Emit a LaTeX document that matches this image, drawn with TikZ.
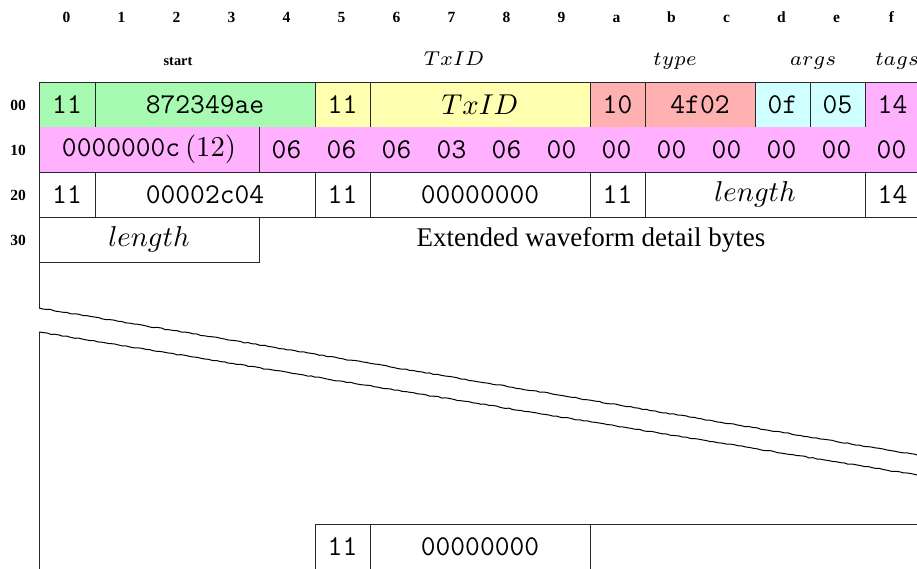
\documentclass[tikz,border=0pt]{standalone}
\usepackage{fontspec}
\newfontfamily\labfont{Liberation Serif}
\usetikzlibrary{decorations.pathmorphing}
\definecolor{cgreen}{RGB}{166,250,178}
\definecolor{cyellow}{RGB}{255,255,176}
\definecolor{cred}{RGB}{255,176,176}
\definecolor{ccyan}{RGB}{208,255,255}
\definecolor{cmag}{RGB}{255,176,255}
\definecolor{cline}{RGB}{40,40,40}
\newcommand{\bigsc}[1]{\scalebox{2.87}{#1}}
\begin{document}
\begin{tikzpicture}[x=1pt,y=-1pt,
  cell/.style={draw=cline,line width=0.8pt,inner sep=0pt,outer sep=0pt,minimum height=45pt,anchor=north west,
     font=\fontsize{28.7}{30}\selectfont\ttfamily},
  txt/.style={inner sep=0pt,outer sep=0pt,font=\fontsize{28.7}{30}\selectfont\ttfamily},
  hexlab/.style={anchor=base,inner sep=0pt,font=\fontsize{15.5}{17}\selectfont\labfont\bfseries},
  rowlab/.style={inner sep=0pt,font=\fontsize{15.5}{17}\selectfont\labfont\bfseries},
  fieldlab/.style={anchor=base,inner sep=0pt,font=\fontsize{14.4}{16}\selectfont\labfont\bfseries},
  mlab/.style={anchor=base,inner sep=0pt},
  edge/.style={draw=cline,line width=0.8pt},
  torn/.style={draw=black,line width=1pt,decorate,decoration={random steps,segment length=4pt,amplitude=0.5pt}}]
\useasboundingbox (0,0) rectangle (917,569);
\clip (0,0) rectangle (917,569);
% column labels
\foreach \c [count=\i from 0] in {0,1,2,3,4,5,6,7,8,9,a,b,c,d,e,f}
  \node[hexlab] (h\i) at ({39+55*\i+27.5},23) {\c};
% field labels
\node[fieldlab] (fstart) at (178,66) {start};
\node[mlab] (ftxid) at (454,66) {\bigsc{\scriptsize$TxID$}};
\node[mlab] (ftype) at (675,66) {\bigsc{\scriptsize$type$}};
\node[mlab] (fargs) at (813,66) {\bigsc{\scriptsize$args$}};
\node[mlab] (ftags) at (897,66) {\bigsc{\scriptsize$tags$}};
% row labels
\node[rowlab] (r00) at (18,105) {00};
\node[rowlab] (r10) at (18,150) {10};
\node[rowlab] (r20) at (18,195) {20};
\node[rowlab] (r30) at (18,240) {30};
% row 00
\node[cell,fill=cgreen,minimum width=56pt] (a0) at (39,82) {11};
\node[cell,fill=cgreen,minimum width=220pt] (a1) at (95,82) {872349ae};
\node[cell,fill=cyellow,minimum width=55pt] (a5) at (315,82) {11};
\node[cell,fill=cyellow,minimum width=220pt] (a6) at (370,82) {\bigsc{\normalsize$TxID$}};
\node[cell,fill=cred,minimum width=55pt] (aa) at (590,82) {10};
\node[cell,fill=cred,minimum width=110pt] (ab) at (645,82) {4f02};
\node[cell,fill=ccyan,minimum width=55pt] (ad) at (755,82) {0f};
\node[cell,fill=ccyan,minimum width=55pt] (ae) at (810,82) {05};
\node[cell,fill=cmag,minimum width=55pt] (af) at (865,82) {14};
% row 10
\fill[cmag] (39,127) rectangle (925,172);
\node[txt] (b0) at (149,149.5) {0000000c\,\bigsc{\rmfamily\normalsize(12)}};
\foreach \v [count=\i from 4] in {06,06,06,03,06,00,00,00,00,00,00,00}
  \node[txt] (b\i) at ({39+55*\i+27.5},149.5) {\v};
\coordinate (bl1) at (259,127);
\coordinate (bl2) at (259,172);
\draw[edge] (bl1) -- (bl2);
\coordinate (bL1) at (39,127);
\coordinate (bL2) at (39,172);
\draw[edge] (bL1) -- (bL2);
% row 20
\node[cell,minimum width=56pt] (c0) at (39,172) {11};
\node[cell,minimum width=220pt] (c1) at (95,172) {00002c04};
\node[cell,minimum width=55pt] (c5) at (315,172) {11};
\node[cell,minimum width=220pt] (c6) at (370,172) {00000000};
\node[cell,minimum width=55pt] (ca) at (590,172) {11};
\node[cell,minimum width=220pt] (cb) at (645,172) {\bigsc{\normalsize$length$}};
\node[cell,minimum width=55pt] (cf) at (865,172) {14};
% row 30
\node[cell,minimum width=220pt] (d0) at (39,217) {\bigsc{\normalsize$length$}};
\node[font=\fontsize{27}{30}\selectfont\labfont] (ext) at (591,240) {Extended waveform detail bytes};
% left side and torn edge
\coordinate (l1) at (39,262);
\coordinate (l2) at (39,308);
\coordinate (t1) at (917,455);
\coordinate (l3) at (39,332);
\coordinate (t2) at (917,475);
\coordinate (l4) at (39,575);
\draw[edge] (l1) -- (l2);
\draw[torn] (l2) -- (t1);
\draw[torn] (l3) -- (t2);
\draw[edge] (l3) -- (l4);
% bottom row
\node[cell,minimum width=55pt] (e5) at (315,524) {11};
\node[cell,minimum width=220pt] (e6) at (370,524) {00000000};
\node[cell,minimum width=340pt] (ea) at (590,524) {};
\end{tikzpicture}
\end{document}
